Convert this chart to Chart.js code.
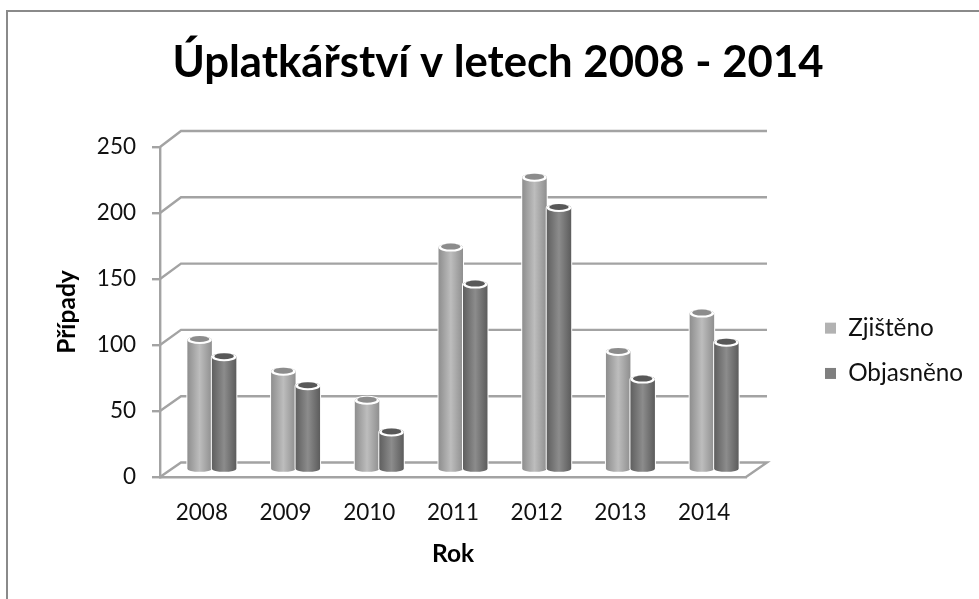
<!DOCTYPE html>
<html>
<head>
<meta charset="utf-8">
<style>
 html, body { margin: 0; padding: 0; background: #fff; overflow: hidden; }
 #wrap { position: relative; width: 979px; height: 599px; filter: blur(0.45px); }
 #frame { position: absolute; left: 6px; top: 10px; width: 990px; height: 600px; border: 2px solid #8a8a8a; }
 #myCanvas { position: absolute; left: 0; top: 0; }
</style>
<script src="https://cdn.jsdelivr.net/npm/chart.js@4"></script>
</head>
<body>
<div id="wrap">
  <div id="frame"></div>
  <canvas id="myCanvas" width="979" height="599"></canvas>
</div>
<script>
 const years = ['2008', '2009', '2010', '2011', '2012', '2013', '2014'];
 const zjisteno = [100, 76, 54, 170, 223, 91, 120];
 const objasneno = [87, 65, 30, 142, 200, 70, 98];
 const yTicks = [0, 50, 100, 150, 200, 250];

 const fontName = 'Lato';
 const lineGrey = '#a3a3a3';
 const depthX = 21, depthY = -14.5;   // back wall offset
 const barX = 10, barY = -5;          // bars stand in the middle of the floor

 // edge, mid, edge colours + colour of the top ellipse
 const shades = [
    { stops: ['#8e8e8e', '#bdbdbd', '#8f8f8f'], cap: '#8c8c8c' },
    { stops: ['#5f5f5f', '#8c8c8c', '#5c5c5c'], cap: '#585858' }
 ];

 function drawWalls(chart){
    const ctx = chart.ctx;
    const left = chart.scales.x.left, right = chart.scales.x.right;
    ctx.save();
    ctx.strokeStyle = lineGrey;
    ctx.lineWidth = 2.4;
    yTicks.forEach(v =>{
        const y = chart.scales.y.getPixelForValue(v);
        // the back wall is a touch taller than the front scale
        const back = y + depthY - v / 250 * 1.5;
        ctx.beginPath();
        ctx.moveTo(left, y);
        ctx.lineTo(left + depthX, back);
        ctx.lineTo(right + depthX, back);
        if(v == 0) ctx.lineTo(right, y);
        ctx.stroke();
    })
    ctx.restore();
 }

 function drawCylinder(ctx, bar, shade){
    const w = bar.width, x0 = bar.x - w / 2 + barX, x1 = x0 + w, cx = x0 + w / 2;
    const top = bar.y + barY, bottom = bar.base + barY;
    const rx = w / 2, ry = 4;

    const body = new Path2D();
    body.moveTo(x0, top);
    body.lineTo(x0, bottom - 2);
    body.ellipse(cx, bottom - 2, rx, 3, 0, Math.PI, 0, true);
    body.lineTo(x1, top);
    body.ellipse(cx, top, rx, ry, 0, 0, Math.PI, true);
    body.closePath();

    ctx.strokeStyle = '#fff';
    ctx.lineWidth = 2;
    ctx.stroke(body);

    const grad = ctx.createLinearGradient(x0, 0, x1, 0);
    grad.addColorStop(0, shade.stops[0]);
    grad.addColorStop(0.5, shade.stops[1]);
    grad.addColorStop(1, shade.stops[2]);
    ctx.fillStyle = grad;
    ctx.fill(body);

    ctx.fillStyle = '#fff';
    ctx.beginPath();
    ctx.ellipse(cx, top, rx, ry, 0, 0, Math.PI * 2);
    ctx.fill();
    ctx.fillStyle = shade.cap;
    ctx.beginPath();
    ctx.ellipse(cx, top - 1, rx - 2.5, ry - 1, 0, 0, Math.PI * 2);
    ctx.fill();
 }

 const cylinderPlugin = {
    id: 'cylinders',
    afterLayout(chart){
        // title and legend do not sit where the layout would put them
        chart.titleBlock.left = 0;
        chart.titleBlock.right = 996;
        const legend = chart.legend;
        legend.left = 804;
        legend.right = 979;
        legend.top = 295;
        legend.bottom = 450;
    },
    beforeDatasetsDraw(chart){
        drawWalls(chart);
        chart.data.datasets.forEach((ds, i) =>{
            chart.getDatasetMeta(i).data.forEach(bar =>{
                drawCylinder(chart.ctx, bar, shades[i]);
            })
        })
        return false;
    }
 };

 function makeChart(){
    const data = {
        labels: years,
        datasets: [
            { label: 'Zjištěno', data: zjisteno, backgroundColor: '#b2b2b2' },
            { label: 'Objasněno', data: objasneno, backgroundColor: '#7f7f7f' }
        ]
    };
    const config = {
        type: 'bar',
        data: data,
        plugins: [cylinderPlugin],
        options: {
            responsive: false,
            animation: false,
            layout: { padding: { left: 0, right: 233, top: 0, bottom: 0 } },
            categoryPercentage: 0.585,
            barPercentage: 1,
            scales: {
                x: {
                    afterFit: s => { s.height = 122; },
                    grid: { drawOnChartArea: false, drawTicks: false },
                    border: { color: lineGrey, width: 2.4 },
                    ticks: { color: '#111', padding: 22, font: { family: fontName, size: 22.5 } },
                    title: {
                        display: true, text: 'Rok', color: '#000',
                        font: { family: fontName, size: 24.5, weight: 'bold' },
                        padding: { top: 0, bottom: 30 }
                    }
                },
                y: {
                    min: 0, max: 250,
                    afterFit: s => { s.width = 160; },
                    grid: { drawOnChartArea: false, color: lineGrey, lineWidth: 2.4, tickLength: 8 },
                    border: { color: lineGrey, width: 2.4 },
                    ticks: { stepSize: 50, color: '#111', padding: 16, font: { family: fontName, size: 22.5 } },
                    title: {
                        display: true, text: 'Případy', color: '#000',
                        font: { family: fontName, size: 24.5, weight: 'bold' },
                        padding: { top: 52, bottom: 0 }
                    }
                }
            },
            plugins: {
                title: {
                    display: true,
                    text: 'Úplatkářství v letech 2008 - 2014',
                    color: '#000',
                    font: { family: fontName, size: 43.7, weight: 'bold', lineHeight: 1 },
                    padding: { top: 41, bottom: 62.3 }
                },
                legend: {
                    position: 'chartArea',
                    align: 'start',
                    labels: {
                        color: '#111',
                        boxWidth: 11,
                        boxHeight: 11,
                        padding: 21,
                        font: { family: fontName, size: 24.3 }
                    }
                },
                tooltip: { enabled: false }
            }
        }
    };
    new Chart(document.getElementById('myCanvas'), config);
 }
 makeChart();
</script>
</body>
</html>
